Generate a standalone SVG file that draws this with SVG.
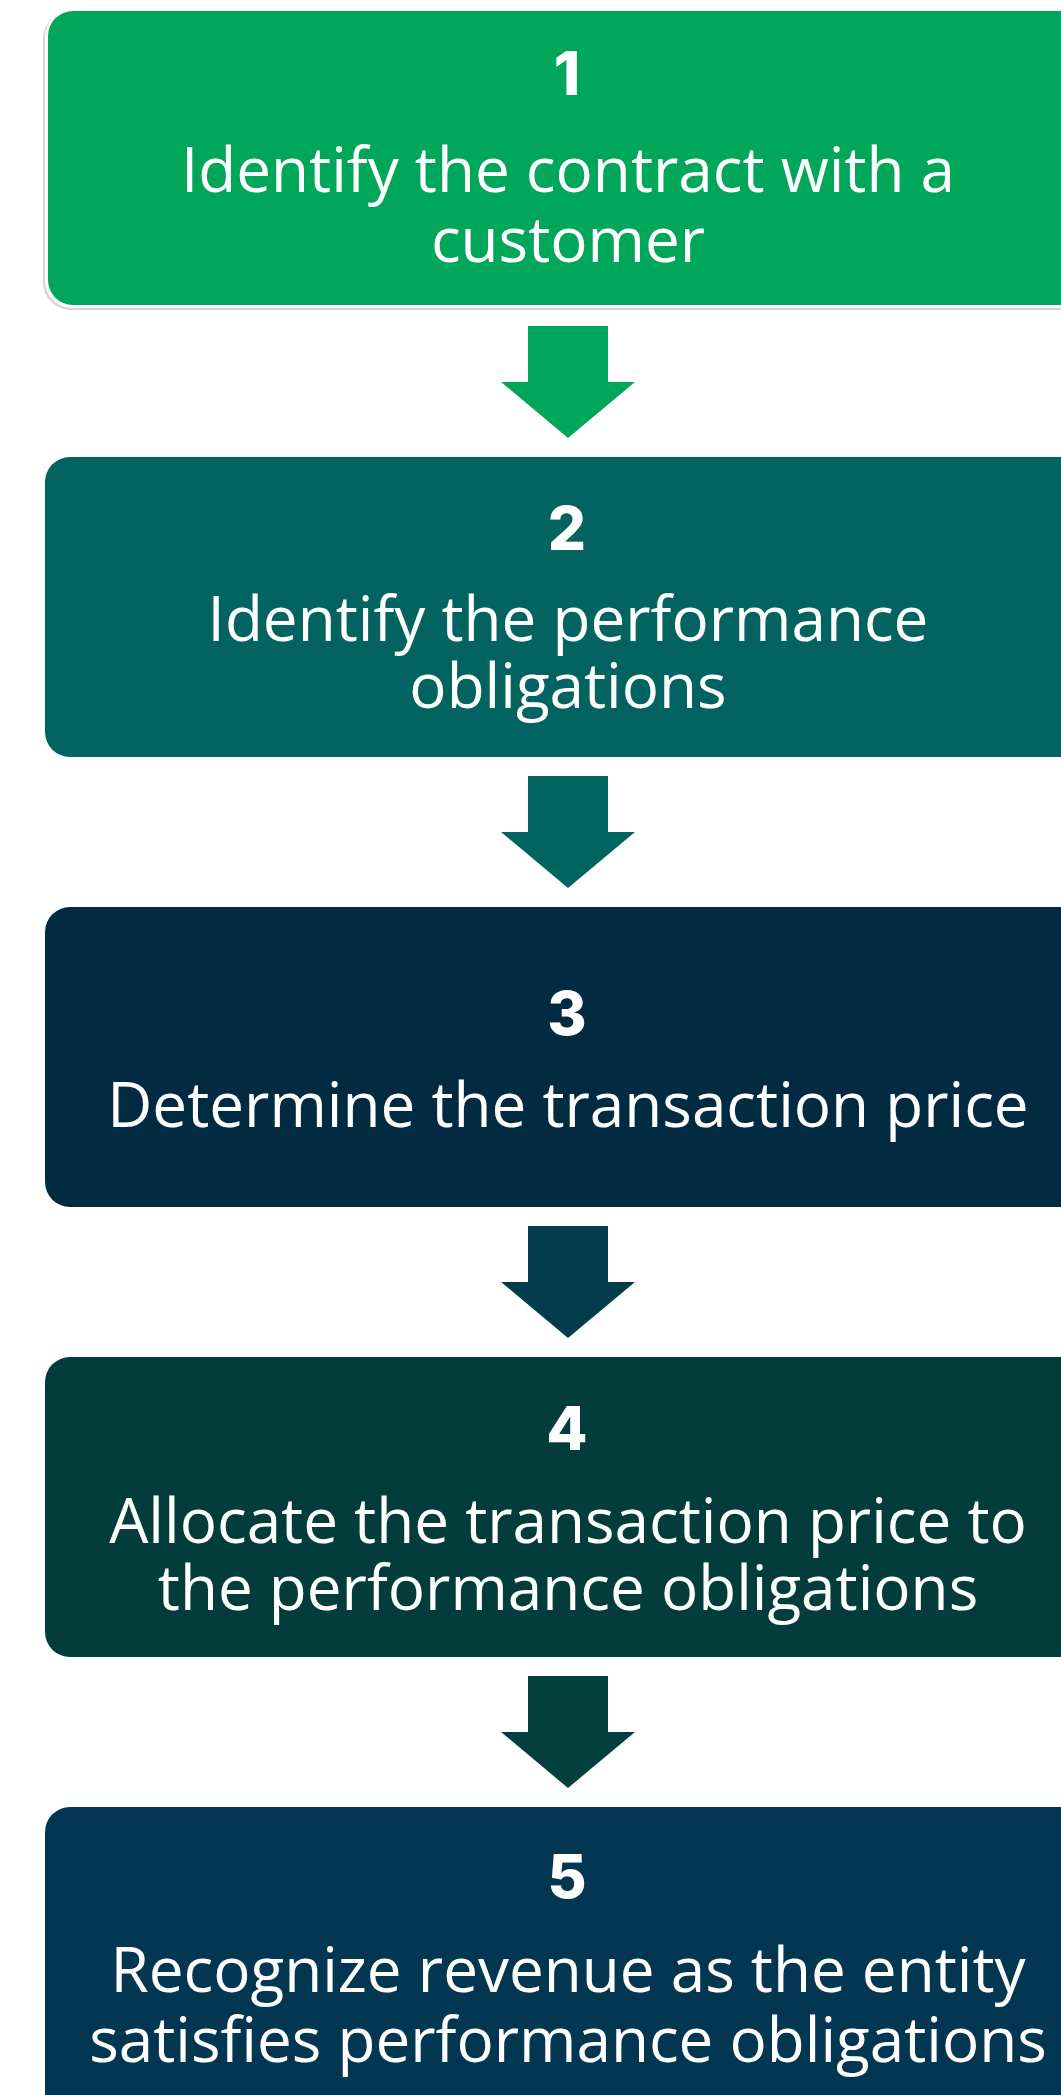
<svg xmlns="http://www.w3.org/2000/svg" width="1061" height="2095" viewBox="0 0 1061 2095">
<style>
.num{font-family:"Inter","Open Sans",sans-serif;font-weight:800;font-size:60px;fill:#fff;text-anchor:middle}
.lbl{font-family:"Open Sans","Noto Sans",sans-serif;font-size:62px;fill:#fff;text-anchor:middle}
</style>
<defs>
<path id="arr" d="M528 0 H608 V56 H635 L568 112 L501 56 H528 Z"/>
</defs>
<rect width="1061" height="2095" fill="#fff"/>
<g id="connectors">
<use href="#arr" y="326" fill="#00A65A"/>
<use href="#arr" y="776" fill="#006461"/>
<use href="#arr" y="1226" fill="#033D4D"/>
<use href="#arr" y="1676" fill="#033F3D"/>
</g>
<g id="step1">
<rect x="43" y="11" width="1060" height="299" rx="28" fill="#d4d4d4"/>
<rect x="45" y="10" width="1060" height="298" rx="27" fill="#fff"/>
<rect x="48" y="11" width="1060" height="294" rx="25" fill="#00A65A"/>
<text class="num" x="567" y="95">1</text>
<text class="lbl" x="568" y="192">Identify the contract with a<tspan x="568" dy="70">customer</tspan></text>
</g>
<g id="step2">
<rect x="45" y="457" width="1060" height="300" rx="25" fill="#026360"/>
<text class="num" x="567" y="550">2</text>
<text class="lbl" x="568" y="641">Identify the performance<tspan x="568" dy="67">obligations</tspan></text>
</g>
<g id="step3">
<rect x="45" y="907" width="1060" height="300" rx="25" fill="#022A40"/>
<text class="num" x="567" y="1035">3</text>
<text class="lbl" x="568" y="1127">Determine the transaction price</text>
</g>
<g id="step4">
<rect x="45" y="1357" width="1060" height="300" rx="25" fill="#033D3B"/>
<text class="num" x="567" y="1450">4</text>
<text class="lbl" x="568" y="1543">Allocate the transaction price to<tspan x="568" dy="67">the performance obligations</tspan></text>
</g>
<g id="step5">
<rect x="45" y="1807" width="1060" height="320" rx="25" fill="#033651"/>
<text class="num" x="567" y="1898">5</text>
<text class="lbl" x="568" y="1992">Recognize revenue as the entity<tspan x="568" dy="70">satisfies performance obligations</tspan></text>
</g>
</svg>
